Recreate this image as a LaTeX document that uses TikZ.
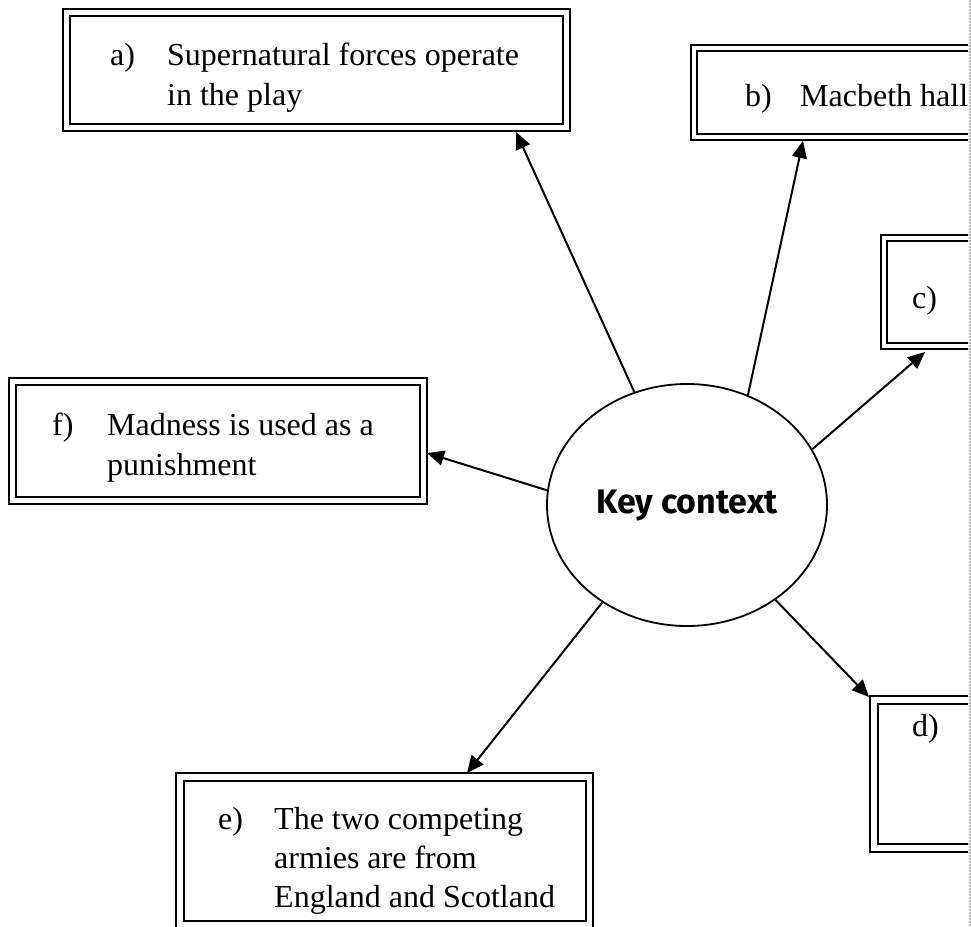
\documentclass[tikz,border=0pt]{standalone}
\usepackage{fontspec}
\setmainfont{Liberation Serif}
\newfontfamily\keyfont{Fira Sans}
\usetikzlibrary{shapes.geometric, arrows.meta}
\begin{document}
\begin{tikzpicture}[x=1pt,y=-1pt,
  outerbox/.style={draw, line width=1.8pt, inner sep=0pt, outer sep=0pt, anchor=north west},
  innerbox/.style={line width=2.8pt},
  boxtext/.style={anchor=base west, inner sep=0pt, font=\fontsize{32}{40}\selectfont},
  conn/.style={line width=2pt, -{Triangle[length=17pt,width=15pt]}},
  keynode/.style={ellipse, draw, line width=1.8pt, minimum width=280pt, minimum height=242pt, inner sep=0pt,
    font=\keyfont\bfseries\fontsize{34}{40}\selectfont},
]
\useasboundingbox (0,0) rectangle (971,926);

% left-hand boxes
\node[outerbox, minimum width=507pt, minimum height=122pt] (a) at (63,9) {};
\draw[innerbox] ([shift={(7,7)}]a.north west) rectangle ([shift={(-7,-7)}]a.south east);
\node[boxtext] (ta-text) at (110,65) {\begin{tabular}[t]{@{}p{57pt}@{}l@{}}a) & Supernatural forces operate\\ & in the play\end{tabular}};

\node[outerbox, minimum width=418pt, minimum height=126pt] (f) at (9,378) {};
\draw[innerbox] ([shift={(7,7)}]f.north west) rectangle ([shift={(-7,-7)}]f.south east);
\node[boxtext] (tf-text) at (52,435) {\begin{tabular}[t]{@{}p{55pt}@{}l@{}}f) & Madness is used as a\\ & punishment\end{tabular}};

\node[outerbox, minimum width=417pt, minimum height=155pt] (e) at (176,773) {};
\draw[innerbox] ([shift={(8,8)}]e.north west) rectangle ([shift={(-7,-7)}]e.south east);
\node[boxtext, font=\fontsize{32}{39}\selectfont] (te-text) at (218,829) {\begin{tabular}[t]{@{}p{56pt}@{}l@{}}e) & The two competing\\ & armies are from\\ & England and Scotland\end{tabular}};

% right-hand boxes, cut by the page edge
\begin{scope}
\clip (0,0) rectangle (968,926);
\node[outerbox, minimum width=320pt, minimum height=95pt] (b) at (691,45) {};
\draw[innerbox] ([shift={(6,6)}]b.north west) rectangle ([shift={(-6,-6)}]b.south east);
\node[boxtext] (tb-text) at (745,106) {\begin{tabular}[t]{@{}p{55pt}@{}l@{}}b) & Macbeth hall\end{tabular}};

\node[outerbox, minimum width=200pt, minimum height=114pt] (c) at (881,235) {};
\draw[innerbox] ([shift={(6,6)}]c.north west) rectangle ([shift={(-6,-6)}]c.south east);
\node[boxtext] (tc-text) at (912,308) {c)};

\node[outerbox, minimum width=200pt, minimum height=156pt] (d) at (870,696) {};
\draw[innerbox] ([shift={(8,8)}]d.north west) rectangle ([shift={(-8,-8)}]d.south east);
\node[boxtext] (td-text) at (912,736) {d)};
\end{scope}

% page edge
\coordinate (edgetop) at (969.5,0);
\coordinate (edgebot) at (969.5,926);
\draw[gray!60, densely dotted, line width=2pt] (edgetop) -- (edgebot);

% centre
\node[keynode] (k) at (687,505) {Key context};

% arrow targets on the boxes
\coordinate (pa) at (516,132);
\coordinate (pb) at (803,141);
\coordinate (pc) at (925,352);
\coordinate (pd) at (869,697);
\coordinate (pe) at (467,773);
\coordinate (pf) at (427,453);

\draw[conn] (k.115.2) -- (pa);
\draw[conn] (k.61.7) -- (pb);
\draw[conn] (k.24) -- (pc);
\draw[conn] (k.-47.8) -- (pd);
\draw[conn] (k.229.4) -- (pe);
\draw[conn] (k.174.7) -- (pf);
\end{tikzpicture}
\end{document}
